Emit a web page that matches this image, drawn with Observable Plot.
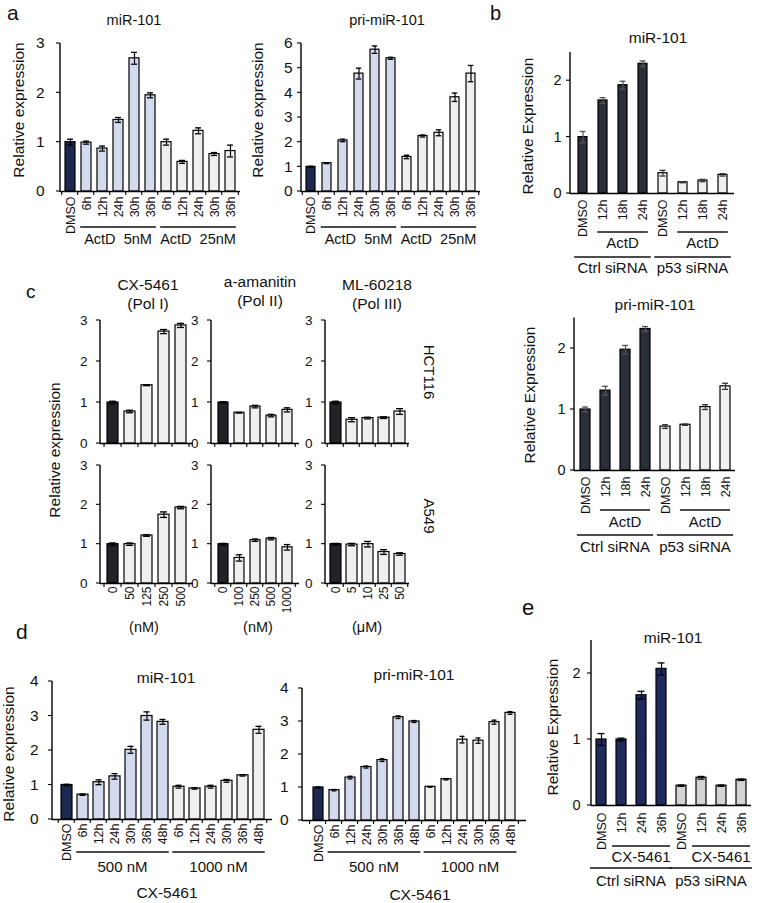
<!DOCTYPE html>
<html><head><meta charset="utf-8">
<script src="https://cdn.jsdelivr.net/npm/d3@7"></script>
<script src="https://cdn.jsdelivr.net/npm/@observablehq/plot@0.6"></script>
<style>
body{margin:0;background:#fff;}
#fig{position:relative;width:758px;height:903px;overflow:hidden;background:#fff;}
#fig svg{position:absolute;left:0;top:0;overflow:visible;}
</style></head><body><div id="fig"></div>
<script>
// ---------- DATA ----------
const timeLabelsA = ["DMSO","6h","12h","24h","30h","36h","6h","12h","24h","30h","36h"];
const seriesA = ["ctrl","low","low","low","low","low","high","high","high","high","high"];
const aMiR    = [1.00,0.99,0.87,1.45,2.70,1.95,1.00,0.60,1.23,0.76,0.82];
const aMiRErr = [0.06,0.03,0.05,0.05,0.12,0.05,0.06,0.03,0.06,0.03,0.12];
const aPri    = [1.00,1.15,2.07,4.78,5.75,5.40,1.40,2.25,2.38,3.82,4.78];
const aPriErr = [0.02,0.02,0.05,0.22,0.15,0.04,0.07,0.04,0.12,0.17,0.33];

const labelsB = ["DMSO","12h","18h","24h","DMSO","12h","18h","24h"];
const seriesB = ["ctrl","ctrl","ctrl","ctrl","p53","p53","p53","p53"];
const bMiR    = [1.00,1.65,1.92,2.30,0.36,0.20,0.23,0.33];
const bMiRErr = [0.10,0.05,0.07,0.05,0.05,0.01,0.02,0.02];
const bPri    = [1.00,1.31,1.98,2.32,0.72,0.75,1.04,1.38];
const bPriErr = [0.04,0.07,0.07,0.04,0.03,0.01,0.04,0.05];

const cxDoses = ["0","50","125","250","500"];
const amDoses = ["0","100","250","500","1000"];
const mlDoses = ["0","5","10","25","50"];
const seriesC = ["ctrl","drug","drug","drug","drug"];
const cHctCX    = [1.00,0.78,1.42,2.73,2.88];
const cHctCXErr = [0.03,0.03,0.01,0.05,0.05];
const cHctAM    = [1.00,0.75,0.90,0.68,0.82];
const cHctAMErr = [0.02,0.01,0.03,0.03,0.05];
const cHctML    = [1.00,0.58,0.62,0.63,0.78];
const cHctMLErr = [0.03,0.05,0.02,0.02,0.07];
const cA5CX     = [1.00,1.00,1.22,1.75,1.93];
const cA5CXErr  = [0.03,0.03,0.02,0.07,0.03];
const cA5AM     = [1.00,0.65,1.10,1.14,0.92];
const cA5AMErr  = [0.02,0.08,0.03,0.03,0.07];
const cA5ML     = [1.00,0.99,1.00,0.80,0.75];
const cA5MLErr  = [0.02,0.03,0.07,0.06,0.03];

const timeLabelsD = ["DMSO","6h","12h","24h","30h","36h","48h","6h","12h","24h","30h","36h","48h"];
const seriesD = ["ctrl","low","low","low","low","low","low","high","high","high","high","high","high"];
const dMiR    = [1.00,0.72,1.08,1.25,2.02,3.00,2.83,0.95,0.90,0.95,1.12,1.28,2.60];
const dMiRErr = [0.02,0.02,0.07,0.08,0.10,0.12,0.07,0.04,0.02,0.04,0.04,0.02,0.10];
const dPri    = [1.00,0.92,1.30,1.62,1.83,3.13,3.00,1.02,1.25,2.45,2.42,2.98,3.26];
const dPriErr = [0.02,0.02,0.04,0.03,0.04,0.04,0.03,0.01,0.02,0.10,0.08,0.06,0.04];

const labelsE = ["DMSO","12h","24h","36h","DMSO","12h","24h","36h"];
const seriesE = ["ctrl","ctrl","ctrl","ctrl","p53","p53","p53","p53"];
const eMiR    = [1.00,1.00,1.67,2.07,0.30,0.42,0.30,0.39];
const eMiRErr = [0.09,0.02,0.06,0.09,0.01,0.02,0.01,0.01];

// ---------- STYLE ----------
const W = 758, H = 903;
const F = '"Liberation Sans", Arial, Helvetica, sans-serif';
const palA = {ctrl:"#1d2850", low:"#d5dbef", high:"#efefef"};
const palB = {ctrl:"#2b2f3a", p53:"#f0f0f0"};
const palC = {ctrl:"#222326", drug:"#efefef"};
const palE = {ctrl:"#1f2a5c", p53:"#d3d3d3"};
const root = document.getElementById("fig");

function barChart(cfg) {
  const n = cfg.labels.length;
  const step = (cfg.cN - cfg.c0) / (n - 1);
  const pi = 1 - cfg.bw / step;
  const po = (cfg.c0 - cfg.r0 - cfg.bw / 2) / step;
  const r1 = cfg.r0 + step * (n - pi + 2 * po);
  const data = cfg.values.map((v, i) => ({
    i, v, e: cfg.errors[i], c: cfg.pal[cfg.series[i]], lab: cfg.labels[i],
    ec: cfg.errColor ? cfg.errColor(cfg.series[i]) : "#000"
  }));
  const capIn = Math.max(0, (cfg.bw - (cfg.cap ?? 6)) / 2);
  const xFont = cfg.xFont ?? 12.5, yFont = cfg.yFont ?? 14;
  const marks = [
    Plot.barY(data, {x: "i", y: "v", fill: "c", stroke: "#000", strokeWidth: 1.2}),
    Plot.ruleX(data, {x: "i", y1: d => d.v - d.e, y2: d => d.v + d.e, stroke: "ec", strokeWidth: 1.2}),
    Plot.tickY(data, {x: "i", y: d => d.v + d.e, stroke: "ec", strokeWidth: 1.3, insetLeft: capIn, insetRight: capIn}),
    Plot.tickY(data, {x: "i", y: d => d.v - d.e, stroke: "ec", strokeWidth: 1.3, insetLeft: capIn, insetRight: capIn}),
    Plot.ruleY([0], {stroke: "#000", strokeWidth: 1.4}),
    // y tick labels
    Plot.text(cfg.ticks, {y: d => d, text: d => String(d), frameAnchor: "left", textAnchor: "end",
      dx: -(4 + (cfg.yPad ?? 5)), fontSize: yFont, fontFamily: F, fill: "#111"})
  ];
  if (cfg.showX) marks.push(
    Plot.text(data, {x: "i", y: () => 0, text: "lab", rotate: -90, textAnchor: "end", lineAnchor: "middle",
      dy: cfg.xPad ?? 4, fontSize: xFont, fontFamily: F, fill: "#111"})
  );
  const fig = Plot.plot({
    width: W, height: H,
    marginLeft: cfg.r0, marginRight: W - r1, marginTop: cfg.yTop, marginBottom: H - cfg.yBottom,
    style: {background: "transparent", overflow: "visible"},
    x: {type: "band", domain: d3.range(n), paddingInner: pi, paddingOuter: po, align: 0.5, axis: null},
    y: {domain: [0, cfg.ymax], axis: null},
    color: {type: "identity"},
    marks
  });
  root.appendChild(fig);
  const svg = d3.select(fig);
  const sx = fig.scale("x"), sy = fig.scale("y");
  const bwid = sx.bandwidth;
  const gap = step - bwid;
  const left = i => sx.apply(i);
  const y0 = sy.apply(0);
  const x0 = sx.range[0];
  svg.append("line").attr("x1", x0).attr("x2", x0).attr("y1", sy.apply(cfg.ymax)).attr("y2", y0 + 0.7)
    .attr("stroke", "#000").attr("stroke-width", 1.4);
  for (const t of cfg.ticks) {
    const ty = sy.apply(t);
    svg.append("line").attr("x1", x0 - 4).attr("x2", x0).attr("y1", ty).attr("y2", ty).attr("stroke", "#000").attr("stroke-width", 1.1);
  }
  if (cfg.bTicks) {
    for (let k = 0; k <= n; k++) {
      const bx = k < n ? left(k) - gap / 2 : left(n - 1) + bwid + gap / 2;
      svg.append("line").attr("x1", bx).attr("x2", bx).attr("y1", y0).attr("y2", y0 + 4).attr("stroke", "#000").attr("stroke-width", 1.1);
    }
  }
  for (const g of (cfg.groups || [])) {
    const x1 = left(g.i0) - gap / 2 + g.inset, x2 = left(g.i1) + bwid + gap / 2 - g.inset;
    svg.append("line").attr("x1", x1).attr("x2", x2).attr("y1", g.y).attr("y2", g.y).attr("stroke", "#111").attr("stroke-width", 1.3);
    svg.append("text").attr("x", (x1 + x2) / 2).attr("y", g.ly).attr("text-anchor", "middle")
      .attr("font-size", g.size).attr("font-family", F).attr("fill", "#111")
      .style("white-space", "pre").text(g.label);
  }
  return fig;
}

// ---------- PANEL a ----------
const grpA = (y, ly) => [
  {i0: 1, i1: 5, label: "ActD  5nM", y, ly, inset: 2.5, size: 14.5},
  {i0: 6, i1: 10, label: "ActD  25nM", y, ly, inset: 2.5, size: 14.5}
];
barChart({labels: timeLabelsA, values: aMiR, errors: aMiRErr, series: seriesA, pal: palA,
  r0: 60, c0: 67, cN: 233, bw: 10, yTop: 43, yBottom: 191, ymax: 3, ticks: [0,1,2,3], yPad: 12, yFont: 15.5,
  showX: true, xPad: 5, bTicks: true, groups: grpA(227, 244)});
barChart({labels: timeLabelsA, values: aPri, errors: aPriErr, series: seriesA, pal: palA,
  r0: 301, c0: 308, cN: 473, bw: 9.5, yTop: 43, yBottom: 191, ymax: 6, ticks: [0,1,2,3,4,5,6], yPad: 5, yFont: 15.5,
  showX: true, xPad: 5, bTicks: true, groups: grpA(227, 244)});

// ---------- PANEL b ----------
const grpB = (y1, l1, y2, l2, word) => [
  {i0: 1, i1: 3, label: word, y: y1, ly: l1, inset: 5, size: 15},
  {i0: 5, i1: 7, label: word, y: y1, ly: l1, inset: 5, size: 15},
  {i0: 0, i1: 3, label: "Ctrl siRNA", y: y2, ly: l2, inset: 2, size: 15},
  {i0: 4, i1: 7, label: "p53 siRNA", y: y2, ly: l2, inset: 2, size: 15}
];
const errB = s => s === "ctrl" ? "#555" : "#333";
barChart({labels: labelsB, values: bMiR, errors: bMiRErr, series: seriesB, pal: palB, errColor: errB,
  r0: 570, c0: 580, cN: 724, bw: 9, yTop: 52, yBottom: 193, ymax: 2.5, ticks: [0,1,2], yPad: 5, yFont: 14.5,
  showX: true, xPad: 6, bTicks: false, groups: grpB(232, 248, 257, 273, "ActD")});
barChart({labels: labelsB, values: bPri, errors: bPriErr, series: seriesB, pal: palB, errColor: errB,
  r0: 574, c0: 584, cN: 725, bw: 10, yTop: 317.5, yBottom: 470, ymax: 2.5, ticks: [0,1,2], yPad: 5, yFont: 14.5,
  showX: true, xPad: 6, bTicks: false, groups: grpB(510, 527, 535, 552, "ActD")});

// ---------- PANEL c ----------
const cCols = [
  {labels: cxDoses, top: [cHctCX, cHctCXErr], bot: [cA5CX, cA5CXErr], r0: 100, c0: 112.5, cN: 180.5, bw: 11},
  {labels: amDoses, top: [cHctAM, cHctAMErr], bot: [cA5AM, cA5AMErr], r0: 211, c0: 222, cN: 288, bw: 10.5},
  {labels: mlDoses, top: [cHctML, cHctMLErr], bot: [cA5ML, cA5MLErr], r0: 325, c0: 334, cN: 400, bw: 11}
];
for (const col of cCols) {
  barChart({labels: col.labels, values: col.top[0], errors: col.top[1], series: seriesC, pal: palC,
    r0: col.r0, c0: col.c0, cN: col.cN, bw: col.bw, yTop: 320, yBottom: 443, ymax: 3, ticks: [0,1,2,3], yPad: 9, yFont: 13.5,
    showX: false, bTicks: true, cap: 7});
  barChart({labels: col.labels, values: col.bot[0], errors: col.bot[1], series: seriesC, pal: palC,
    r0: col.r0, c0: col.c0, cN: col.cN, bw: col.bw, yTop: 465, yBottom: 583, ymax: 3, ticks: [0,1,2,3], yPad: 9, yFont: 13.5,
    showX: true, xPad: 3, xFont: 12, bTicks: true, cap: 7});
}

// ---------- PANEL d ----------
const grpD = [
  {i0: 1, i1: 6, label: "500 nM", y: 852, ly: 872, inset: 2, size: 15},
  {i0: 7, i1: 12, label: "1000 nM", y: 852, ly: 872, inset: 2, size: 15}
];
barChart({labels: timeLabelsD, values: dMiR, errors: dMiRErr, series: seriesD, pal: palA,
  r0: 52, c0: 63, cN: 261, bw: 11, yTop: 681, yBottom: 819, ymax: 4, ticks: [0,1,2,3,4], yPad: 10, yFont: 15.5,
  showX: true, xPad: 4, bTicks: true, groups: grpD});
barChart({labels: timeLabelsD, values: dPri, errors: dPriErr, series: seriesD, pal: palA,
  r0: 302, c0: 313, cN: 515, bw: 11, yTop: 688, yBottom: 820, ymax: 4, ticks: [0,1,2,3,4], yPad: 10, yFont: 15.5,
  showX: true, xPad: 4, bTicks: true, groups: grpD});

// ---------- PANEL e ----------
barChart({labels: labelsE, values: eMiR, errors: eMiRErr, series: seriesE, pal: palE,
  r0: 591, c0: 601, cN: 741, bw: 10, yTop: 640, yBottom: 805, ymax: 2.5, ticks: [0,1,2], yPad: 7, yFont: 14.5,
  showX: true, xPad: 7, bTicks: false, cap: 7,
  groups: [
    {i0: 1, i1: 3, label: "CX-5461", y: 846, ly: 862, inset: 1, size: 15},
    {i0: 5, i1: 7, label: "CX-5461", y: 846, ly: 862, inset: 1, size: 15},
    {i0: 0, i1: 3, label: "Ctrl siRNA", y: 868, ly: 886, inset: -1, size: 15},
    {i0: 4, i1: 7, label: "p53 siRNA", y: 868, ly: 886, inset: -1, size: 15}
  ]});

// ---------- TEXT OVERLAY ----------
const ov = d3.select(root).append("svg").attr("width", W).attr("height", H)
  .attr("font-family", F).attr("fill", "#111");
function txt(x, y, s, size, rotate = 0, anchor = "middle") {
  ov.append("text").attr("transform", `translate(${x},${y})` + (rotate ? ` rotate(${rotate})` : ""))
    .attr("text-anchor", anchor).attr("font-size", size)
    .style("white-space", "pre").text(s);
}
// panel letters
txt(7, 20, "a", 21, 0, "start");
txt(490, 20, "b", 20, 0, "start");
txt(26, 298, "c", 19, 0, "start");
txt(16, 639, "d", 21, 0, "start");
txt(522, 615, "e", 22, 0, "start");
// titles
txt(134, 25, "miR-101", 14.5);
txt(387, 25, "pri-miR-101", 14.5);
txt(658, 43, "miR-101", 15.5);
txt(655, 310, "pri-miR-101", 15.5);
txt(148, 290, "CX-5461", 15.5); txt(148, 309, "(Pol I)", 15.5);
txt(260, 287, "a-amanitin", 15.5); txt(260, 306, "(Pol II)", 15.5);
txt(377, 290, "ML-60218", 15.5); txt(377, 309, "(Pol III)", 15.5);
txt(144, 632, "(nM)", 14.5); txt(258, 632, "(nM)", 14.5); txt(367, 632, "(\u03bcM)", 14.5);
txt(424, 372, "HCT116", 15, 90);
txt(424, 516, "A549", 15, 90);
txt(166, 683, "miR-101", 15.5);
txt(414, 680, "pri-miR-101", 15.5);
txt(167, 898, "CX-5461", 15.5);
txt(420, 900, "CX-5461", 15.5);
txt(673, 643, "miR-101", 15.5);
// y titles
txt(24, 110, "Relative expression", 15.5, -90);
txt(263, 110, "Relative expression", 15.5, -90);
txt(533, 126, "Relative Expression", 15.5, -90);
txt(535, 395, "Relative Expression", 15.5, -90);
txt(60, 450, "Relative expression", 15.5, -90);
txt(14, 754, "Relative expression", 15.5, -90);
txt(558, 727, "Relative Expression", 15.5, -90);
</script></body></html>
